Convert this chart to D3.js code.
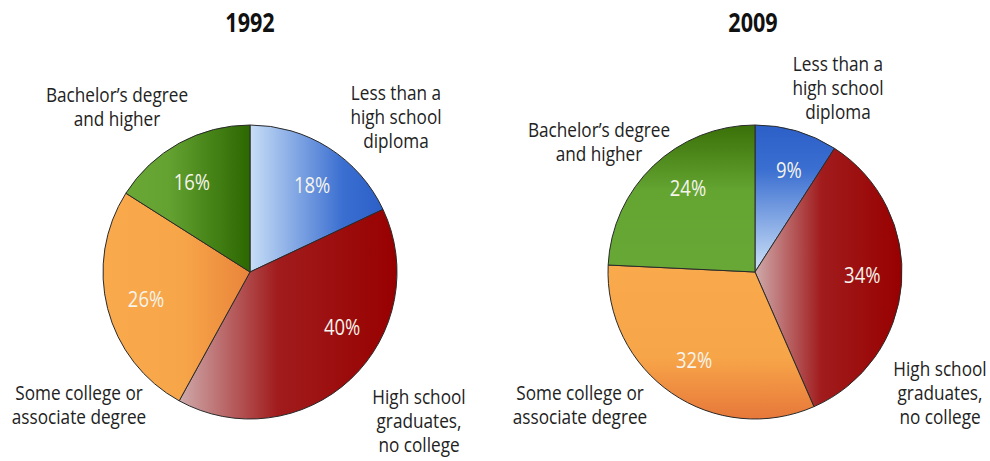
<!DOCTYPE html>
<html>
<head>
<meta charset="utf-8">
<script src="https://cdn.jsdelivr.net/npm/d3@7"></script>
<style>
  html, body { margin: 0; padding: 0; background: #fff; }
  svg { display: block; }
  text { font-family: "Open Sans", "Noto Sans", sans-serif; }
</style>
</head>
<body>
<svg id="chart" width="990" height="461"></svg>
<script>
// ---------------- data ----------------
const categories = [
  "Less than a high school diploma",
  "High school graduates, no college",
  "Some college or associate degree",
  "Bachelor’s degree and higher"
];
const years = ["1992", "2009"];
const values1992 = [18, 40, 26, 16];
const values2009 = [9, 34, 32, 24];
const labelLines = [
  ["Less than a", "high school", "diploma"],
  ["High school", "graduates,", "no college"],
  ["Some college or", "associate degree"],
  ["Bachelor’s degree", "and higher"]
];

// ---------------- layout / style ----------------
const svg = d3.select("#chart");
const R = 147;
const panels = [
  {
    year: years[0], values: values1992, cx: 250, cy: 272, titleX: 250,
    labels: [ {x: 396, y: 100}, {x: 419, y: 404}, {x: 79, y: 400}, {x: 117, y: 102} ],
    pctAngleTweak: [3, -16, 0, -4],
    grads: [
      {dir: "h", stops: [[0, "#c8def7"], [0.7, "#3a6ed0"], [1, "#2c60c8"]]},
      {dir: "h", stops: [[0, "#cfaaab"], [0.45, "#a11c1d"], [1, "#980000"]]},
      {dir: "h", stops: [[0, "#f9aa4c"], [0.55, "#f7a549"], [1, "#e9843b"]]},
      {dir: "h", stops: [[0, "#6aa836"], [0.35, "#63a231"], [1, "#2c6700"]]}
    ]
  },
  {
    year: years[1], values: values2009, cx: 755, cy: 272, titleX: 753,
    labels: [ {x: 838, y: 71}, {x: 940, y: 376}, {x: 580, y: 400}, {x: 599, y: 137} ],
    pctAngleTweak: [2, -3, 0, 5],
    grads: [
      {dir: "v", stops: [[0, "#2c60c8"], [0.3, "#3a6ed0"], [1, "#cfe3f8"]]},
      {dir: "h", stops: [[0, "#cfaaab"], [0.45, "#a11c1d"], [1, "#980000"]]},
      {dir: "v", stops: [[0, "#f9aa4c"], [0.6, "#f7a549"], [1, "#e7783a"]]},
      {dir: "v", stops: [[0, "#3a7008"], [0.45, "#64a532"], [1, "#68a836"]]}
    ]
  }
];

const defs = svg.append("defs");
const arc = d3.arc().innerRadius(0).outerRadius(R);
const pie = d3.pie().sort(null).value(d => d);

function squeezedText(parent, x, y, lines, size, fill, weight, sx) {
  const t = parent.append("text")
    .attr("transform", `translate(${x},${y}) scale(${sx},1)`)
    .attr("text-anchor", "middle")
    .attr("fill", fill)
    .style("font-size", size + "px")
    .style("font-weight", weight || "normal");
  lines.forEach((ln, k) => {
    t.append("tspan").attr("x", 0).attr("y", k * 24).text(ln);
  });
  return t;
}

panels.forEach((p, pi) => {
  p.grads.forEach((g, gi) => {
    const lg = defs.append("linearGradient")
      .attr("id", `g${pi}_${gi}`)
      .attr("x1", 0).attr("y1", 0)
      .attr("x2", g.dir === "h" ? 1 : 0)
      .attr("y2", g.dir === "h" ? 0 : 1);
    g.stops.forEach(s => lg.append("stop").attr("offset", s[0]).attr("stop-color", s[1]));
  });

  const g = svg.append("g").attr("transform", `translate(${p.cx},${p.cy})`);
  const arcs = pie(p.values);

  g.selectAll("path.slice")
    .data(arcs)
    .join("path")
    .attr("class", "slice")
    .attr("d", arc)
    .attr("fill", (d, i) => `url(#g${pi}_${i})`)
    .attr("stroke", "#2a2a2a")
    .attr("stroke-width", 1)
    .attr("stroke-linejoin", "round");

  const lr = R * 0.73;
  arcs.forEach((d, i) => {
    const a = (d.startAngle + d.endAngle) / 2 + p.pctAngleTweak[i] * Math.PI / 180;
    squeezedText(g, Math.sin(a) * lr, -Math.cos(a) * lr + 8, [d.data + "%"], 22, "#f6f4ec", "normal", 0.84);
  });

  squeezedText(svg, p.titleX, 32, [p.year], 27, "#111", "bold", 0.8);

  labelLines.forEach((lines, i) => {
    squeezedText(svg, p.labels[i].x, p.labels[i].y, lines, 20, "#222", "normal", 0.86);
  });
});
</script>
</body>
</html>
